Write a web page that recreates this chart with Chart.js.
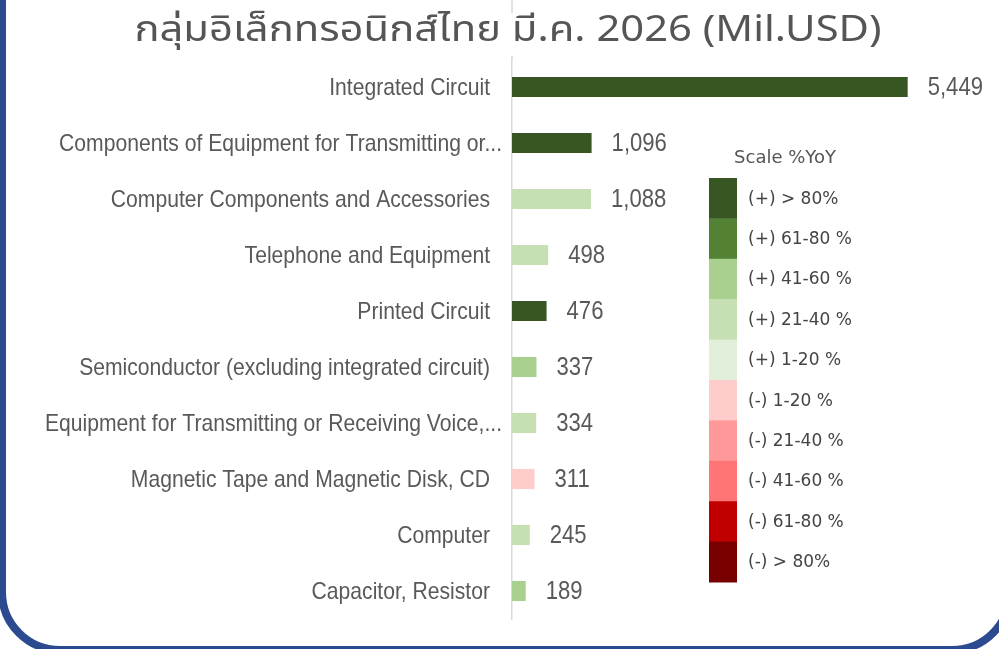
<!DOCTYPE html>
<html>
<head>
<meta charset="utf-8">
<script src="https://cdn.jsdelivr.net/npm/chart.js@4"></script>
<style>
    html, body { margin: 0; padding: 0; background: #fff; overflow: hidden; }
    #wrap { position: relative; width: 999px; height: 649px; overflow: hidden; }
    #frame {
        position: absolute; left: -2px; top: -40px; width: 1016px; height: 694px;
        box-sizing: border-box; border: 8px solid #2c4a8f;
        border-radius: 0 0 62px 62px; pointer-events: none;
    }
    canvas { position: absolute; left: 0; top: 0; }
</style>
</head>
<body>
<div id="wrap">
    <canvas id="elecChart" width="999" height="649"></canvas>
    <div id="frame"></div>
</div>
<script>
var chartTitle = "กลุ่มอิเล็กทรอนิกส์ไทย มี.ค. 2026 (Mil.USD)";

var categories = [
    "Integrated Circuit",
    "Components of Equipment for Transmitting or...",
    "Computer Components and Accessories",
    "Telephone and Equipment",
    "Printed Circuit",
    "Semiconductor (excluding integrated circuit)",
    "Equipment for Transmitting or Receiving Voice,...",
    "Magnetic Tape and Magnetic Disk, CD",
    "Computer",
    "Capacitor, Resistor"
];
var values = [5449, 1096, 1088, 498, 476, 337, 334, 311, 245, 189];
// index into the %YoY scale below
var yoyClass = [0, 0, 3, 3, 0, 2, 3, 5, 3, 2];

var scaleTitle = "Scale %YoY";
var scaleLabels = [
    "(+) > 80%", "(+) 61-80 %", "(+) 41-60 %", "(+) 21-40 %", "(+) 1-20 %",
    "(-) 1-20 %", "(-) 21-40 %", "(-) 41-60 %", "(-) 61-80 %", "(-) > 80%"
];
var scaleColors = [
    "#375623", "#548235", "#a9d08e", "#c6e0b4", "#e2efda",
    "#ffcccc", "#ff9999", "#ff7575", "#c00000", "#780000"
];

var labelFont = "'Liberation Sans', Arial, sans-serif";

// draw text squeezed/stretched horizontally (narrow excel look)
function drawScaled(ctx, text, x, y, sx) {
    ctx.save();
    ctx.translate(x, y);
    ctx.scale(sx, 1);
    ctx.fillText(text, 0, 0);
    ctx.restore();
}

var extrasPlugin = {
    id: "extras",
    afterDraw: function (chart) {
        var ctx = chart.ctx;
        var area = chart.chartArea;
        var yScale = chart.scales.y;
        ctx.save();

        // title
        ctx.fillStyle = "#555";
        ctx.font = "36px 'Noto Sans', 'Noto Sans Thai', sans-serif";
        ctx.textAlign = "center";
        ctx.textBaseline = "middle";
        drawScaled(ctx, chartTitle, 508, 31, 1.16);

        // axis line continuing above the plot
        ctx.strokeStyle = "#d9d9d9";
        ctx.lineWidth = 1.5;
        ctx.beginPath();
        ctx.moveTo(area.left, 0);
        ctx.lineTo(area.left, 13);
        ctx.moveTo(area.left, 56);
        ctx.lineTo(area.left, area.top);
        ctx.stroke();

        // category labels (truncated ones run up to the axis)
        ctx.fillStyle = "#595959";
        ctx.font = "24px " + labelFont;
        ctx.textAlign = "right";
        categories.forEach(function (c, i) {
            var shift = c.slice(-3) === "..." ? 12 : 0;
            drawScaled(ctx, c, area.left - 22 + shift, yScale.getPixelForTick(i) + 1, 0.88);
        });

        // value labels
        var meta = chart.getDatasetMeta(0);
        ctx.font = "26px " + labelFont;
        ctx.textAlign = "left";
        meta.data.forEach(function (bar, i) {
            drawScaled(ctx, values[i].toLocaleString("en-US"), bar.x + 20, bar.y + 1, 0.85);
        });

        // %YoY colour scale
        var bx = 709, by = 178, bw = 28, bh = 40.4;
        ctx.font = "18px 'DejaVu Sans', sans-serif";
        ctx.fillStyle = "#555";
        ctx.textAlign = "center";
        ctx.fillText(scaleTitle, 785, 158);
        ctx.font = "17px 'DejaVu Sans', sans-serif";
        ctx.textAlign = "left";
        scaleColors.forEach(function (c, i) {
            ctx.fillStyle = c;
            ctx.fillRect(bx, by + i * bh, bw, bh + 0.5);
            ctx.fillStyle = "#444";
            ctx.fillText(scaleLabels[i], bx + 39, by + i * bh + bh / 2 + 1);
        });
        ctx.restore();
    }
};

document.addEventListener("DOMContentLoaded", function () {
    var ctx = document.getElementById("elecChart").getContext("2d");

    new Chart(ctx, {
        type: "bar",
        data: {
            labels: categories,
            datasets: [
                {
                    data: values,
                    backgroundColor: yoyClass.map(function (k) { return scaleColors[k]; }),
                    barPercentage: 0.36,
                    categoryPercentage: 1
                }
            ]
        },
        options: {
            indexAxis: "y",
            responsive: false,
            animation: false,
            layout: { padding: { left: 0, right: 15, top: 59, bottom: 30 } },
            scales: {
                x: { display: false, min: 0, max: 6500 },
                y: {
                    grid: { display: false, drawTicks: false },
                    border: { display: true, color: "#d9d9d9", width: 1.5 },
                    ticks: { display: false },
                    afterFit: function (scale) { scale.width = 512; }
                }
            },
            plugins: {
                legend: { display: false },
                tooltip: { enabled: false },
                title: { display: false }
            }
        },
        plugins: [extrasPlugin]
    });
});
</script>
</body>
</html>
